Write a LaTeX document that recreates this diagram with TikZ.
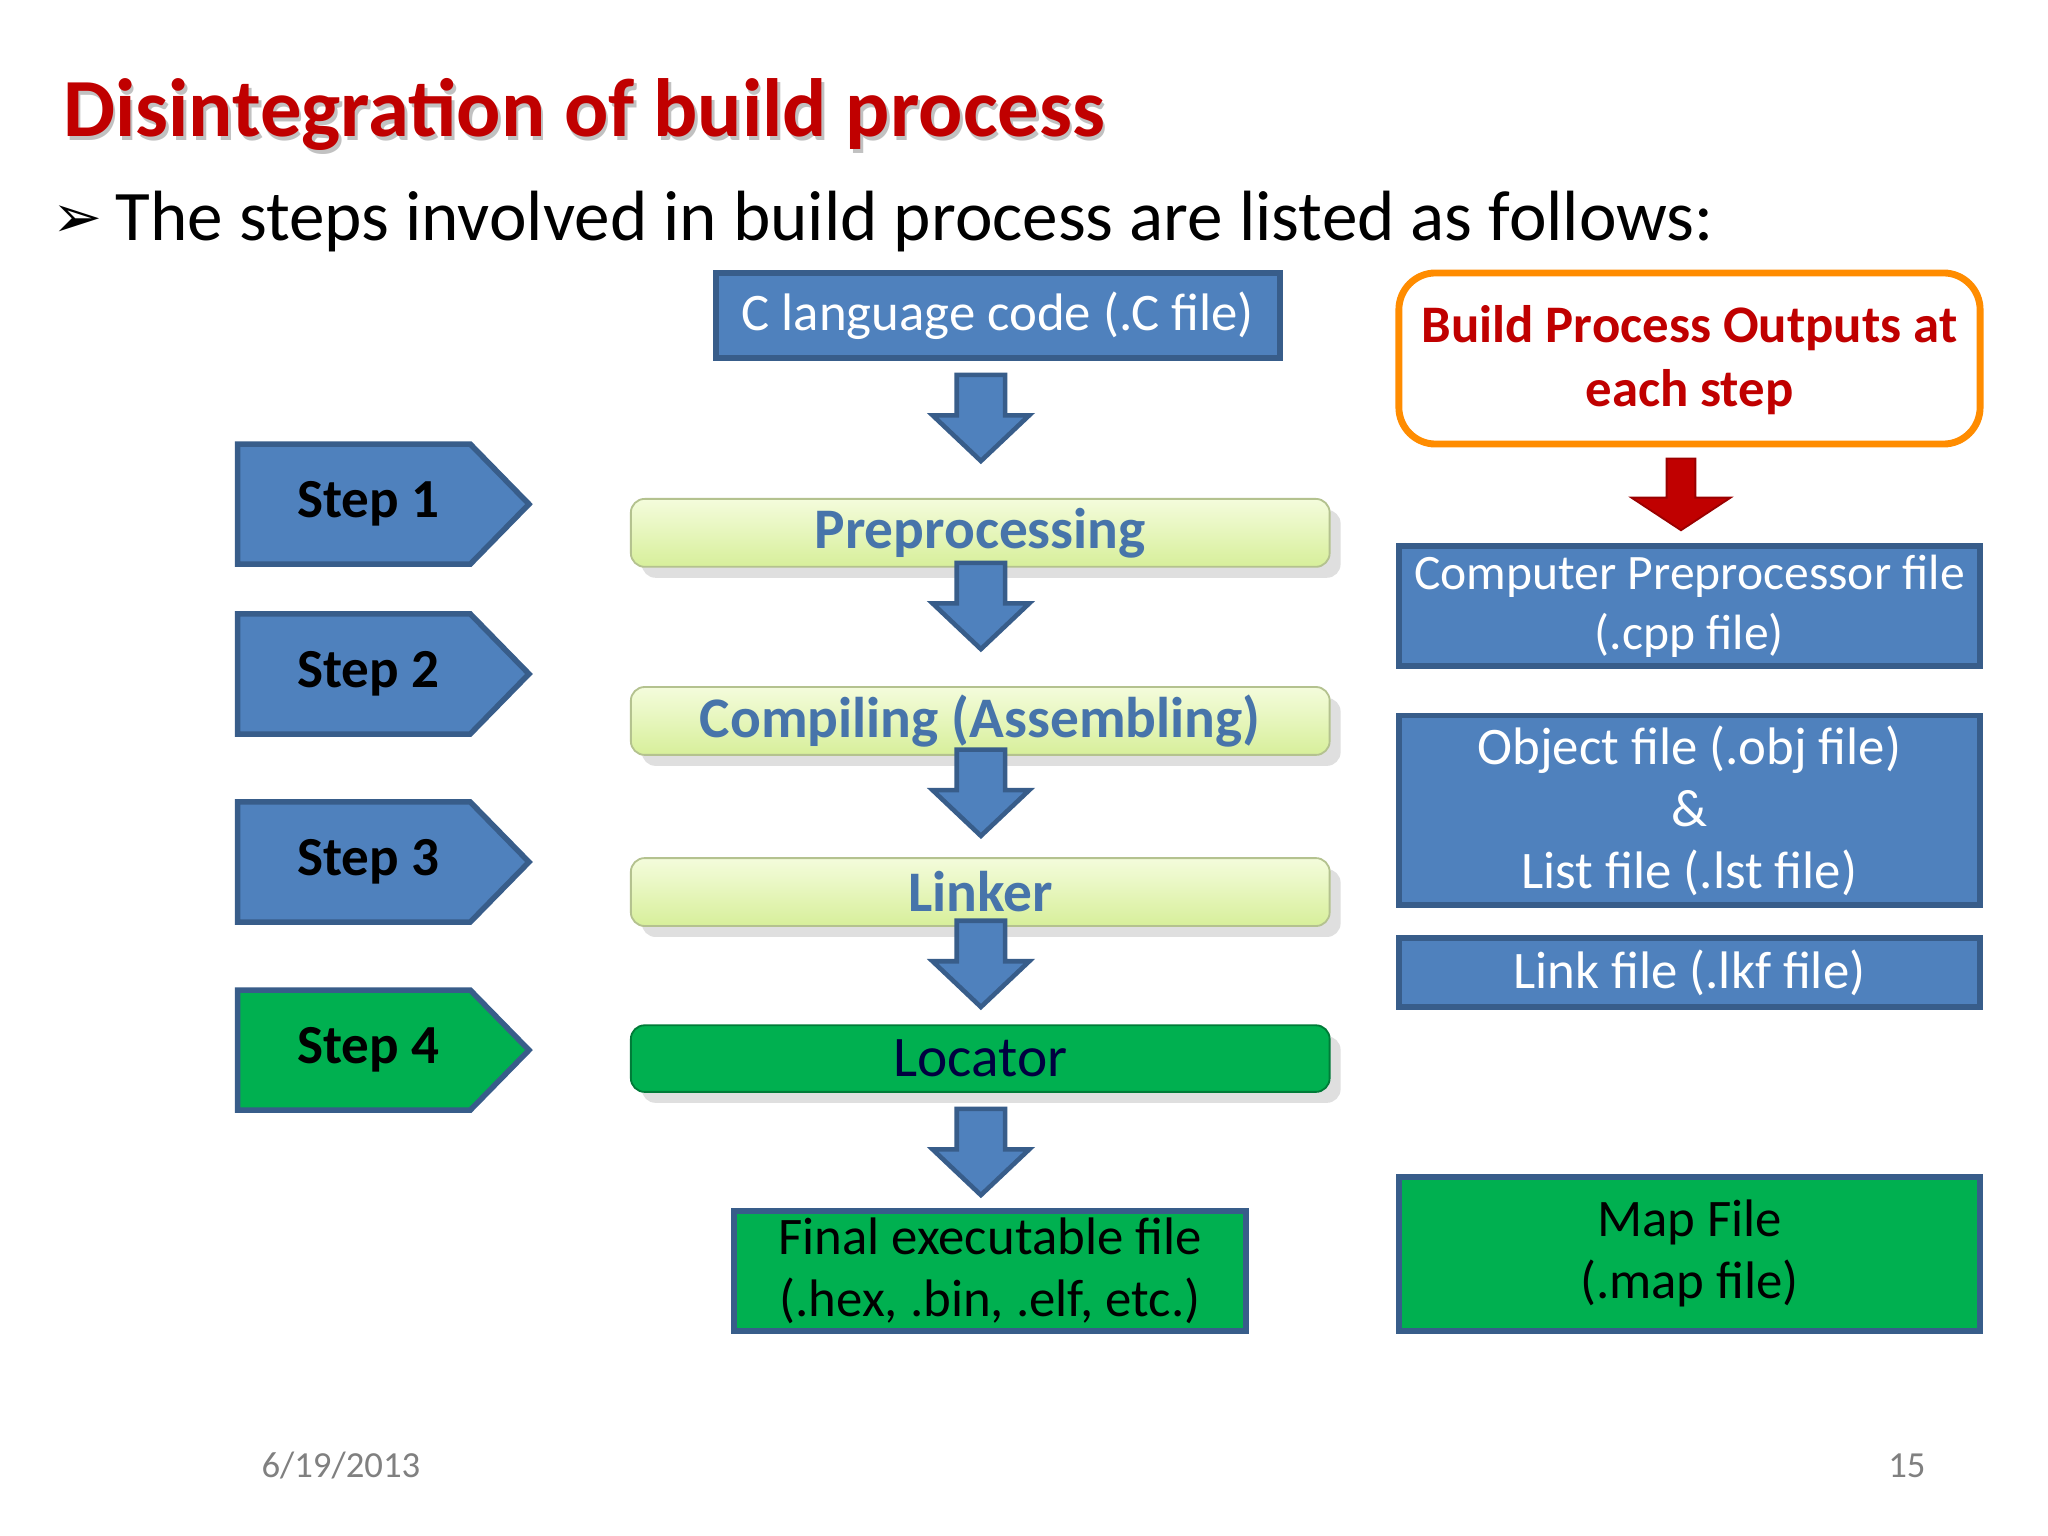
\documentclass[tikz,border=0pt]{standalone}
\usepackage{fontspec}
\setmainfont{Carlito}
\newfontfamily\djv{DejaVu Sans}
\usetikzlibrary{shapes.symbols,shadows}
\definecolor{bblue}{HTML}{4F81BD}
\definecolor{bborder}{HTML}{385D8A}
\definecolor{ggreen}{HTML}{00B050}
\definecolor{dred}{HTML}{C00000}
\definecolor{lgA}{HTML}{F4FCDC}
\definecolor{lgB}{HTML}{D7EF9A}
\tikzset{
  bluebox/.style={draw=bborder,line width=1.2pt,fill=bblue,text=white,align=center,inner sep=0pt},
  greenbox/.style={draw=bborder,line width=1.2pt,fill=ggreen,text=black,align=center,inner sep=0pt},
  procbox/.style={draw=lgB!60!gray,rounded corners=3pt,top color=lgA,bottom color=lgB,drop shadow={opacity=0.25},align=center,inner sep=0pt,font=\bfseries\fontsize{12.5}{14}\selectfont,text=bblue!90!black},
  downarr/.style={fill=bblue,draw=bborder,line width=1pt}
}
\newcommand{\darr}[3]{% x, ytop, ybottom
  \fill[downarr] (#1-0.185,#2) -- (#1+0.185,#2) -- (#1+0.185,#3+0.35) -- (#1+0.37,#3+0.35) -- (#1,#3) -- (#1-0.37,#3+0.35) -- (#1-0.185,#3+0.35) -- cycle;}
\newcommand{\stepar}[4]{% ytop ybottom fill label
  \filldraw[#3,draw=bborder,line width=1.2pt] (1.82,#1) -- (3.6,#1) -- (4.05,{(#1+#2)/2}) -- (3.6,#2) -- (1.82,#2) -- cycle;
  \node[font=\bfseries\fontsize{12}{14}\selectfont] at (2.82,{(#1+#2)/2}) {#4};}
\begin{document}
\begin{tikzpicture}[x=1cm,y=1cm]
\useasboundingbox (0,0) rectangle (15.68,11.76);
\fill[white] (0,0) rectangle (15.68,11.76);
% title
\node[anchor=west,font=\bfseries\fontsize{18}{20}\selectfont,text=black!40,opacity=0.6] (titleS) at (0.38,10.85) {Disintegration of build process};
\node[anchor=west,font=\bfseries\fontsize{18}{20}\selectfont,text=dred] (title) at (0.36,10.88) {Disintegration of build process};
\node[anchor=west,font=\djv\fontsize{13}{15}\selectfont] (bul) at (0.28,10.06) {➢};
\node[anchor=west,font=\fontsize{15.5}{17}\selectfont] (sub) at (0.76,10.06) {The steps involved in build process are listed as follows:};
% centre column
\node[bluebox,minimum width=4.32cm,minimum height=0.65cm,font=\fontsize{11.5}{13}\selectfont] (c) at (7.64,9.345) {C language code (.C file)};
\darr{7.51}{8.89}{8.23}
\node[procbox,minimum width=5.35cm,minimum height=0.52cm] (pre) at (7.505,7.68) {Preprocessing};
\darr{7.51}{7.45}{6.79}
\node[procbox,minimum width=5.35cm,minimum height=0.52cm] (comp) at (7.505,6.24) {Compiling (Assembling)};
\darr{7.51}{6.02}{5.36}
\node[procbox,minimum width=5.35cm,minimum height=0.52cm] (link) at (7.505,4.93) {Linker};
\darr{7.51}{4.71}{4.05}
\node[draw=ggreen!70!black,rounded corners=3pt,fill=ggreen,drop shadow={opacity=0.25},minimum width=5.35cm,minimum height=0.51cm,font=\fontsize{12.5}{14}\selectfont,text=blue!25!black,inner sep=0pt] (loc) at (7.505,3.655) {Locator};
\darr{7.51}{3.27}{2.61}
\node[greenbox,minimum width=3.92cm,minimum height=0.92cm,font=\fontsize{11.5}{13.5}\selectfont] (final) at (7.58,2.03) {Final executable file\\(.hex, .bin, .elf, etc.)};
% steps
\stepar{8.36}{7.44}{fill=bblue}{Step 1}
\stepar{7.06}{6.14}{fill=bblue}{Step 2}
\stepar{5.62}{4.70}{fill=bblue}{Step 3}
\stepar{4.18}{3.26}{fill=ggreen}{Step 4}
% right column
\draw[draw=orange!90!yellow,line width=1.5pt,fill=white,rounded corners=8pt] (10.71,9.67) -- (15.16,9.67) -- (15.16,8.36) -- (10.71,8.36) -- cycle;
\node[font=\bfseries\fontsize{11.5}{14}\selectfont,text=dred,align=center] (out) at (12.935,9.0) {Build Process Outputs at\\each step};
\fill[dred,draw=dred!80!black] (12.76,8.25) -- (12.98,8.25) -- (12.98,7.95) -- (13.25,7.95) -- (12.87,7.70) -- (12.49,7.95) -- (12.76,7.95) -- cycle;
\node[bluebox,minimum width=4.45cm,minimum height=0.92cm,font=\fontsize{10.8}{13}\selectfont] (cpp) at (12.935,7.12) {Computer Preprocessor file\\(.cpp file)};
\node[bluebox,minimum width=4.45cm,minimum height=1.45cm,font=\fontsize{11.5}{13.5}\selectfont] (obj) at (12.935,5.555) {Object file (.obj file)\\\&\\List file (.lst file)};
\node[bluebox,minimum width=4.45cm,minimum height=0.53cm,font=\fontsize{11.5}{13}\selectfont] (lkf) at (12.935,4.315) {Link file (.lkf file)};
\node[greenbox,minimum width=4.45cm,minimum height=1.18cm,font=\fontsize{11.5}{13.5}\selectfont] (map) at (12.935,2.16) {Map File\\(.map file)};
% footer
\node[text=gray,font=\fontsize{8}{9}\selectfont] (date) at (2.61,0.54) {6/19/2013};
\node[text=gray,font=\fontsize{8}{9}\selectfont] (pg) at (14.6,0.54) {15};
\end{tikzpicture}
\end{document}
